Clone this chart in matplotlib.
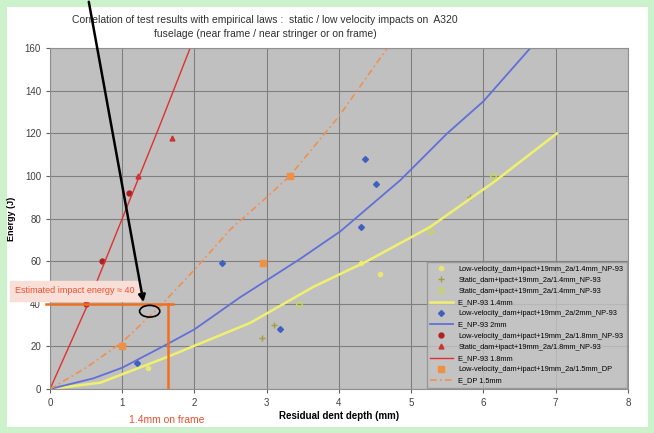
import matplotlib
matplotlib.use("Agg")
import matplotlib.pyplot as plt
from matplotlib.patches import Ellipse

plt.rcParams['font.family'] = ['Liberation Sans', 'DejaVu Sans']

# empirical law curves
red_law_x = [0, 0.5, 1.0, 1.5, 1.94]
red_law_y = [0, 38, 80, 122, 160]
orange_law_x = [0, 0.5, 1.0, 1.5, 2.0, 2.5, 3.0, 3.32, 4.0, 4.67]
orange_law_y = [0, 10, 22, 38, 56, 75, 90, 100, 128, 160]
blue_law_x = [0, 0.6, 1.0, 1.62, 2.0, 2.63, 3.0, 3.46, 4.02, 4.85, 5.5, 6.0, 6.65]
blue_law_y = [0, 5, 10, 21, 28, 43, 51, 61, 74, 98, 120, 135, 160]
yellow_law_x = [0, 0.7, 1.62, 2.77, 3.65, 4.39, 5.26, 6.14, 7.02]
yellow_law_y = [0, 3, 15, 31, 48, 60, 76, 97, 120]

# test results
lv14_x = [1.36, 4.31, 4.57]
lv14_y = [10, 59, 54]
st14_x = [2.94, 3.1, 5.82]
st14_y = [24, 30, 90]
st14b_x = [3.45, 5.26, 6.14]
st14b_y = [40, 74, 100]
lv2_x = [1.2, 2.38, 3.19, 4.31, 4.36, 4.51]
lv2_y = [12, 59, 28, 76, 108, 96]
lv18_x = [0.5, 0.72, 1.1]
lv18_y = [40, 60, 92]
st18_x = [1.22, 1.69]
st18_y = [100, 118]
dp_x = [1.0, 2.95, 3.32]
dp_y = [20, 59, 100]

labels = ['Low-velocity_dam+ipact+19mm_2a/1.4mm_NP-93',
          'Static_dam+ipact+19mm_2a/1.4mm_NP-93',
          'Static_dam+ipact+19mm_2a/1.4mm_NP-93',
          'E_NP-93 1.4mm',
          'Low-velocity_dam+ipact+19mm_2a/2mm_NP-93',
          'E_NP-93 2mm',
          'Low-velocity_dam+ipact+19mm_2a/1.8mm_NP-93',
          'Static_dam+ipact+19mm_2a/1.8mm_NP-93',
          'E_NP-93 1.8mm',
          'Low-velocity_dam+ipact+19mm_2a/1.5mm_DP',
          'E_DP 1.5mm']

fig = plt.figure(figsize=(6.54, 4.33), dpi=100)
fig.patch.set_edgecolor('#ccf2cc')
fig.patch.set_linewidth(8)
ax = fig.add_axes([0.0765, 0.1016, 0.8835, 0.7874])
ax.set_facecolor('#c0c0c0')

h1, = ax.plot(lv14_x, lv14_y, ls='none', marker='o', ms=3, color='#e8e870', label=labels[0])
h2, = ax.plot(st14_x, st14_y, ls='none', marker='+', ms=4, color='#a0a040', label=labels[1])
h3, = ax.plot(st14b_x, st14b_y, ls='none', marker='o', ms=4, mfc='none', color='#c8d850', label=labels[2])
h4, = ax.plot(yellow_law_x, yellow_law_y, color='#f0f070', lw=1.8, label=labels[3])
h5, = ax.plot(lv2_x, lv2_y, ls='none', marker='D', ms=3, color='#4060c0', label=labels[4])
h6, = ax.plot(blue_law_x, blue_law_y, color='#6070d8', lw=1.3, label=labels[5])
h7, = ax.plot(lv18_x, lv18_y, ls='none', marker='o', ms=3.5, color='#b02020', label=labels[6])
h8, = ax.plot(st18_x, st18_y, ls='none', marker='^', ms=3.5, color='#d03030', label=labels[7])
h9, = ax.plot(red_law_x, red_law_y, color='#e03030', lw=1.0, label=labels[8])
h10, = ax.plot(dp_x, dp_y, ls='none', marker='s', ms=4, color='#f09040', label=labels[9])
h11, = ax.plot(orange_law_x, orange_law_y, color='#f09050', lw=1.2, ls=(0, (4, 2, 1, 2)), label=labels[10])

ax.set_xlim(0, 8)
ax.set_ylim(0, 160)
ax.set_xticks(range(0, 9))
ax.set_yticks(range(0, 161, 20))
ax.grid(True, color='#808080', lw=0.8)
ax.set_axisbelow(True)
ax.tick_params(labelsize=7, length=3, color='#606060', labelcolor='#404040')
for s in ax.spines.values():
    s.set_color('#909090')

ax.set_xlabel('Residual dent depth (mm)', fontsize=7, fontweight='bold', labelpad=2)
ax.set_ylabel('Energy (J)', fontsize=6.5, fontweight='bold', labelpad=6)
ax.set_title('Correlation of test results with empirical laws :  static / low velocity impacts on  A320\n'
             'fuselage (near frame / near stringer or on frame)', fontsize=7.5, color='#303030',
             pad=8, x=0.372, linespacing=1.5)

leg = ax.legend(loc='lower right', fontsize=5.3, frameon=True, facecolor='#c4c4c4', edgecolor='#909090',
                fancybox=False, borderpad=0.5, labelspacing=0.55, handlelength=3.0, borderaxespad=0.1)

# estimate of the impact energy
ax.plot([-0.05, 1.7], [40, 40], color='#f07020', lw=1.8, clip_on=False)
ax.plot([1.63, 1.63], [0, 40], color='#f07020', lw=1.8)
ax.text(-0.48, 46, 'Estimated impact energy \u2248 40', fontsize=6.5, color='#f05030',
        va='center', ha='left', backgroundcolor='#f8e0d8', zorder=5)
ax.add_patch(Ellipse((1.38, 36.5), 0.28, 5.5, fill=False, color='black', lw=1.2, zorder=6))
ax.annotate('', xy=(1.3, 39.5), xytext=(0.53, 183),
            arrowprops=dict(arrowstyle='-|>', color='black', lw=1.8, mutation_scale=10),
            annotation_clip=False, zorder=7)
ax.text(1.1, -14.5, '1.4mm on frame', fontsize=7.5, color='#f05030', ha='left', va='center')

plt.savefig('out.png', dpi=100)
